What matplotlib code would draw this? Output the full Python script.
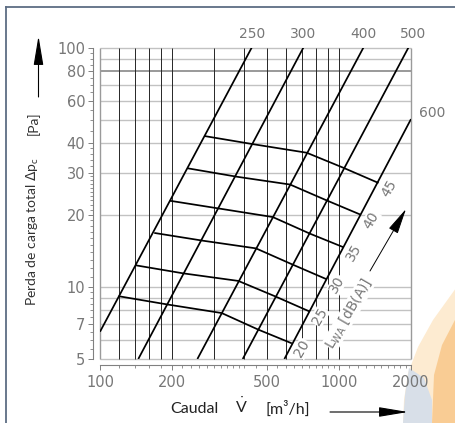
import matplotlib
matplotlib.use('Agg')
import matplotlib.pyplot as plt
from matplotlib.ticker import FixedLocator, FixedFormatter, NullFormatter
from matplotlib.patches import FancyArrowPatch, Polygon
from matplotlib.lines import Line2D

plt.rcParams['font.family'] = ['Lato', 'DejaVu Sans']
plt.rcParams['mathtext.fontset'] = 'dejavusans'
NUM_FONT = ['DejaVu Sans']
NUM_COLOR = '#777777'

# ---------------- data ----------------
# duct size lines (straight on log-log chart): start / end points
size_labels = ['250', '300', '400', '500', '600']
size_q_start = [100, 144.6, 255.5, 395.4, 590.6]
size_dp_start = [6.5, 5, 5, 5, 5]
size_q_end = [431, 709, 1264, 1950, 2000]
size_dp_end = [100, 100, 100, 100, 50.3]

# sound power level lines L_WA (vertices on the size lines)
lwa_labels = ['20', '25', '30', '35', '40', '45']
lwa_q = [
    [120.5, 190, 323, 460, 630],
    [142.3, 223, 379, 540, 744],
    [170, 270.6, 449, 640, 882],
    [197.6, 312.6, 528, 756, 1036],
    [234, 373, 624, 888, 1224],
    [275, 438, 732, 1042, 1451],
]
lwa_dp = [
    [9.14, 8.46, 7.78, 6.63, 5.83],
    [12.3, 11.4, 10.6, 9.14, 7.94],
    [16.8, 15.6, 14.5, 12.4, 10.8],
    [22.9, 21.3, 19.6, 16.7, 14.7],
    [31.3, 28.9, 26.8, 23.0, 20.1],
    [42.7, 39.5, 36.4, 31.5, 27.3],
]

# axes / grid / ticks
q_lim = [100, 2000]
dp_lim = [5, 100]
grid_q = [100, 120, 140, 160, 180, 200, 300, 400, 500, 600, 700, 800, 900, 1000, 2000]
grid_dp = [5, 6, 7, 8, 9, 10, 20, 30, 40, 50, 60, 70, 80, 90, 100]
x_major = [100, 200, 500, 1000, 2000]
x_major_labels = ['100', '200', '500', '1000', '2000']
x_minor = ([120, 140, 160, 180] + list(range(220, 400, 20)) + [400]
           + list(range(450, 1000, 50)) + list(range(1100, 2000, 100)))
y_major = [5, 7, 10, 20, 30, 40, 60, 80, 100]
y_major_labels = ['5', '7', '10', '20', '30', '40', '60', '80', '100']
y_minor = ([5.5, 6, 6.5, 7.5, 8, 8.5, 9, 9.5] + list(range(11, 20)) + list(range(21, 30))
           + [32, 34, 36, 38] + [45, 50, 55, 65, 70, 75, 85, 90, 95])

# ---------------- figure ----------------
W, H, DPI = 456, 423, 100
fig = plt.figure(figsize=(W / DPI, H / DPI), dpi=DPI)
fig.patch.set_facecolor('white')


def fx(px):
    return px / W


def fy(py):
    return 1 - py / H


def fpoly(pts, **kw):
    fig.add_artist(Polygon([(fx(a), fy(b)) for a, b in pts], closed=True,
                           transform=fig.transFigure, ec='none', zorder=0, **kw))


# watermark (bottom right)
fpoly([(456, 288), (433, 320), (418, 347), (408, 373), (404, 400), (403, 423), (456, 423)],
      fc='#fde9cc', alpha=0.9)
fpoly([(456, 318), (442, 345), (434, 375), (432, 423), (456, 423)], fc='#f8c07a', alpha=0.7)
fpoly([(409, 368), (424, 378), (432, 400), (432, 423), (403, 423), (405, 395)],
      fc='#d6dfea', alpha=0.95)

# frame border
fig.add_artist(Line2D([fx(6), fx(456)], [fy(7), fy(7)], transform=fig.transFigure,
                      color='#5d6d84', lw=1.3))
fig.add_artist(Line2D([fx(6), fx(6)], [fy(7), fy(423)], transform=fig.transFigure,
                      color='#5d6d84', lw=1.3))

ax = fig.add_axes([fx(100), fy(359), (411 - 100) / W, (359 - 47.7) / H])
ax.set_facecolor('none')
ax.set_xscale('log')
ax.set_yscale('log')
ax.set_xlim(q_lim)
ax.set_ylim(dp_lim)

# grid
ax.hlines(grid_dp, q_lim[0], q_lim[1],
          colors=['#999999' if v == 80 else '#c2c2c2' for v in grid_dp],
          linewidths=[1.4 if v == 80 else 1.0 for v in grid_dp], zorder=1, clip_on=False)
ax.vlines(grid_q, dp_lim[0], dp_lim[1],
          colors=['#9a9a9a' if v in (100, 2000) else '#262626' for v in grid_q],
          linewidths=[1.0 if v in (100, 2000) else 0.7 for v in grid_q], zorder=1, clip_on=False)

# size lines
size_offsets = [(0, 10), (0, 10), (0, 10), (3.5, 10), (15, 4.5)]
for lab, q0, p0, q1, p1, off in zip(size_labels, size_q_start, size_dp_start,
                                     size_q_end, size_dp_end, size_offsets):
    ax.plot([q0, q1], [p0, p1], color='black', lw=1.25, zorder=3, solid_capstyle='butt')
    ax.annotate(lab, (q1, p1), xytext=off, textcoords='offset points', ha='center',
                va='center', fontsize=10, color=NUM_COLOR, family=NUM_FONT,
                annotation_clip=False)

# sound level lines
for lab, qs, ps in zip(lwa_labels, lwa_q, lwa_dp):
    ax.plot(qs, ps, color='black', lw=1.25, zorder=3)
    ax.annotate(lab, (qs[-1], ps[-1]), xytext=(8, -4), textcoords='offset points',
                ha='center', va='center', fontsize=10, color=NUM_COLOR, rotation=60,
                family=NUM_FONT, bbox=dict(fc='white', ec='none', pad=0.3), zorder=4,
                annotation_clip=False)

# spines & ticks
for s in ('top', 'right'):
    ax.spines[s].set_visible(False)
ax.spines['left'].set_position(('outward', 5))
ax.spines['bottom'].set_position(('outward', 4.5))
for s in ('left', 'bottom'):
    ax.spines[s].set_color('#808080')
    ax.spines[s].set_linewidth(0.8)
ax.xaxis.set_major_locator(FixedLocator(x_major))
ax.xaxis.set_major_formatter(FixedFormatter(x_major_labels))
ax.xaxis.set_minor_locator(FixedLocator(x_minor))
ax.xaxis.set_minor_formatter(NullFormatter())
ax.yaxis.set_major_locator(FixedLocator(y_major))
ax.yaxis.set_major_formatter(FixedFormatter(y_major_labels))
ax.yaxis.set_minor_locator(FixedLocator(y_minor))
ax.yaxis.set_minor_formatter(NullFormatter())
ax.tick_params(which='major', direction='out', length=3.5, width=0.7, color='#808080',
               labelsize=10.5, labelcolor=NUM_COLOR)
ax.tick_params(which='minor', direction='out', length=2.3, width=0.6, color='#808080')
ax.tick_params(axis='y', which='major', pad=2)
ax.tick_params(axis='x', which='major', pad=3.5)
for t in ax.get_xticklabels() + ax.get_yticklabels():
    t.set_family(NUM_FONT)

# L_WA label
fig.text(fx(349), fy(313), r'L$_{\mathregular{WA}}$ [dB(A)]', rotation=60, ha='center',
         va='center', fontsize=10, color=NUM_COLOR, rotation_mode='anchor',
         family=NUM_FONT, bbox=dict(fc='white', ec='none', pad=0.3), zorder=5)

# axis labels
fig.text(fx(33), fy(231), r'Perda de carga total $\Delta$p$_{\mathregular{c}}$', rotation=90,
         ha='center', va='center', fontsize=10, color='#333333')
fig.text(fx(33), fy(123), '[Pa]', rotation=90, ha='center', va='center', fontsize=10,
         color='#333333')
fig.text(fx(194), fy(409), 'Caudal', ha='center', va='center', fontsize=11.5, color='#222222')
fig.text(fx(241), fy(406), r'$\dot{\mathregular{V}}$', ha='center', va='center',
         fontsize=11.5, color='#222222')
fig.text(fx(288), fy(409), '[m³/h]', ha='center', va='center', fontsize=11.5,
         color='#222222')

# arrows
arrow_style = '-|>,head_length=1.8,head_width=0.3'
fig.add_artist(FancyArrowPatch((fx(38.5), fy(97)), (fx(38.5), fy(36)), transform=fig.transFigure,
                               arrowstyle=arrow_style, mutation_scale=10, lw=0.8,
                               color='black', shrinkA=0, shrinkB=0))
fig.add_artist(FancyArrowPatch((fx(330), fy(412)), (fx(408), fy(412)), transform=fig.transFigure,
                               arrowstyle=arrow_style, mutation_scale=10, lw=0.8,
                               color='black', shrinkA=0, shrinkB=0))
fig.add_artist(FancyArrowPatch((fx(370), fy(271)), (fx(406), fy(209)), transform=fig.transFigure,
                               arrowstyle='-|>,head_length=1.6,head_width=0.32',
                               mutation_scale=10, lw=0.7, color='black', shrinkA=0, shrinkB=0,
                               zorder=6))

fig.savefig('out.png', dpi=DPI, facecolor='white')
